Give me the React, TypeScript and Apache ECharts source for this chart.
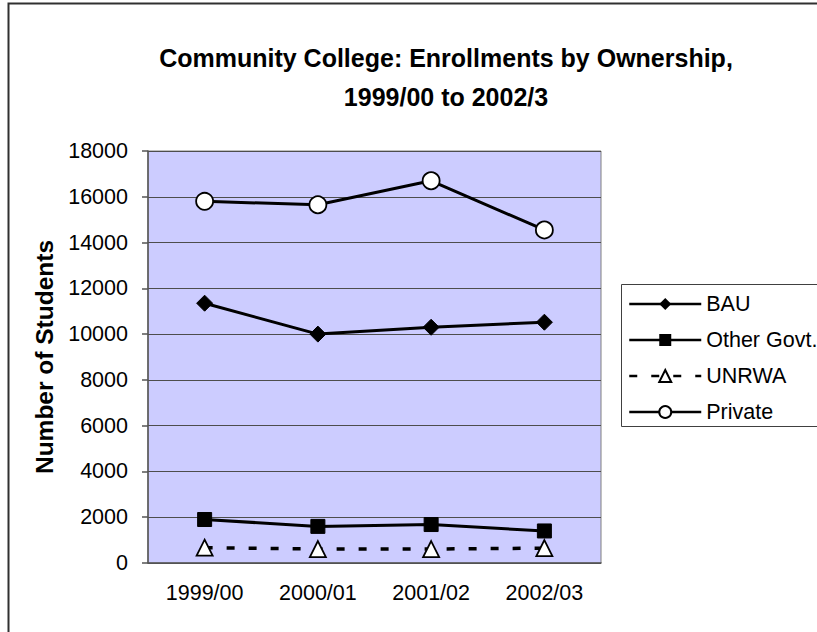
import React, { useEffect, useRef } from "react";
import * as echarts from "echarts";

const categories = ["1999/00", "2000/01", "2001/02", "2002/03"];
const bau = [11350, 10000, 10300, 10520];
const otherGovt = [1900, 1600, 1680, 1400];
const unrwa = [670, 610, 610, 650];
const privateEnr = [15800, 15650, 16700, 14550];
const yTicks = { min: 0, max: 18000, interval: 2000 };

const titleLines = ["Community College: Enrollments by Ownership,", "1999/00 to 2002/3"];
const FONT = "'Liberation Sans', Arial, sans-serif";

export default function App() {
  const ref = useRef<HTMLDivElement>(null);
  useEffect(() => {
    if (!ref.current) return;
    const chart = echarts.init(ref.current, undefined, { renderer: "svg" });
    chart.setOption({
      animation: false,
      backgroundColor: "#ffffff",
      textStyle: { fontFamily: FONT },
      graphic: [
        {
          type: "rect",
          z: -10,
          shape: { x: 8.5, y: 3.5, width: 900, height: 700 },
          style: { fill: "none", stroke: "#303030", lineWidth: 2 },
        },
        {
          type: "rect",
          z: 1,
          shape: { x: 621.5, y: 284.5, width: 300, height: 142 },
          style: { fill: "#ffffff", stroke: "#404040", lineWidth: 1 },
        },
        {
          type: "text",
          x: 446,
          y: 58,
          style: {
            text: titleLines[0],
            fontFamily: FONT,
            fontSize: 25,
            fontWeight: "bold",
            fill: "#000",
            textAlign: "center",
            textVerticalAlign: "middle",
          },
        },
        {
          type: "text",
          x: 446,
          y: 97,
          style: {
            text: titleLines[1],
            fontFamily: FONT,
            fontSize: 25,
            fontWeight: "bold",
            fill: "#000",
            textAlign: "center",
            textVerticalAlign: "middle",
          },
        },
      ],
      grid: {
        left: 148,
        top: 151,
        right: 216,
        bottom: 69,
        show: true,
        backgroundColor: "#CCCCFF",
        borderColor: "#808080",
        borderWidth: 1,
      },
      legend: {
        orient: "vertical",
        left: 628,
        top: 293,
        padding: 0,
        itemWidth: 72,
        itemHeight: 15,
        itemGap: 14,
        z: 5,
        lineStyle: { width: 2.5 },
        textStyle: { fontSize: 21.5, color: "#000", fontFamily: FONT, padding: [0, 0, 0, 0] },
        data: ["BAU", "Other Govt.", "UNRWA", "Private"],
      },
      xAxis: {
        type: "category",
        data: categories,
        boundaryGap: true,
        axisLine: { lineStyle: { color: "#555", width: 1.5 } },
        axisTick: { length: 6, lineStyle: { color: "#555", width: 1.5 } },
        axisLabel: { fontSize: 21.5, color: "#000", margin: 19, fontFamily: FONT },
        splitLine: { show: false },
      },
      yAxis: {
        type: "value",
        min: yTicks.min,
        max: yTicks.max,
        interval: yTicks.interval,
        name: "Number of Students",
        nameLocation: "middle",
        nameGap: 88,
        nameTextStyle: { fontSize: 24.5, fontWeight: "bold", color: "#000", fontFamily: FONT },
        axisLine: { show: true, lineStyle: { color: "#555", width: 1.5 } },
        axisTick: { show: true, length: 6, lineStyle: { color: "#555", width: 1.5 } },
        axisLabel: {
          fontSize: 21.5,
          color: "#000",
          margin: 20,
          fontFamily: FONT,
          formatter: (v: number) => String(v),
        },
        splitLine: { show: true, lineStyle: { color: "#4d4d4d", width: 1 } },
      },
      series: [
        {
          name: "BAU",
          type: "line",
          data: bau,
          symbol: "diamond",
          symbolSize: 16,
          itemStyle: { color: "#000", borderColor: "#000" },
          lineStyle: { color: "#000", width: 3 },
          z: 3,
        },
        {
          name: "Other Govt.",
          type: "line",
          data: otherGovt,
          symbol: "rect",
          symbolSize: 14,
          itemStyle: { color: "#000", borderColor: "#000" },
          lineStyle: { color: "#000", width: 3 },
          z: 3,
        },
        {
          name: "UNRWA",
          type: "line",
          data: unrwa,
          symbol: "triangle",
          symbolSize: 16,
          itemStyle: { color: "#fff", borderColor: "#000", borderWidth: 1.8 },
          lineStyle: { color: "#000", width: 3.5, type: [8, 14] },
          z: 3,
        },
        {
          name: "Private",
          type: "line",
          data: privateEnr,
          symbol: "circle",
          symbolSize: 17,
          itemStyle: { color: "#fff", borderColor: "#000", borderWidth: 1.8 },
          lineStyle: { color: "#000", width: 3 },
          z: 3,
        },
      ],
    });
    return () => chart.dispose();
  }, []);
  return (
    <div
      ref={ref}
      style={{ position: "absolute", left: 0, top: 0, width: 817, height: 632 }}
    />
  );
}
